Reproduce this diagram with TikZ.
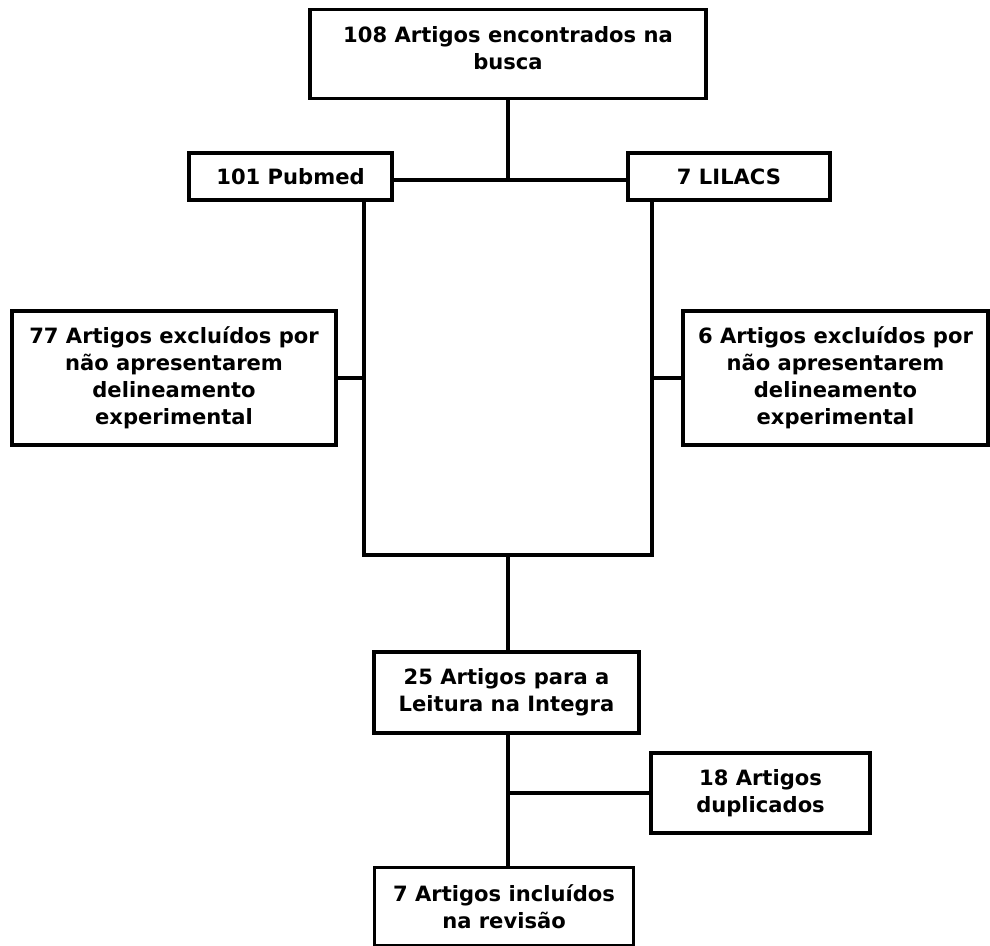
\documentclass[tikz,border=0pt]{standalone}
\usepackage{fontspec}
\setmainfont{DejaVu Sans}
\usetikzlibrary{calc}
\tikzstyle{caixa}=[draw, line width=2pt, align=center, inner sep=0, font=\bfseries\fontsize{12}{15.3}\selectfont]
\tikzstyle{liga}=[line width=2pt]

\begin{document}
\begin{tikzpicture}[x=0.02cm,y=-0.02cm]
\useasboundingbox (0,0) rectangle (990,946);
\node[caixa, minimum width=7.92cm, minimum height=1.78cm] (busca) at (508,54) {108 Artigos encontrados na\\busca\\[-8.5pt]};
\node[caixa, minimum width=4.06cm, minimum height=0.94cm] (pub) at (290.5,176.5) {101 Pubmed};
\node[caixa, minimum width=4.04cm, minimum height=0.94cm] (lil) at (729,176.5) {7 LILACS};
\node[caixa, minimum width=6.48cm, minimum height=2.68cm] (exc1) at (174,378) {77 Artigos excluídos por\\não apresentarem\\delineamento\\experimental};
\node[caixa, minimum width=6.1cm, minimum height=2.68cm] (exc2) at (835.5,378) {6 Artigos excluídos por\\não apresentarem\\delineamento\\experimental};
\node[caixa, minimum width=5.3cm, minimum height=1.62cm] (leit) at (506.5,692.5) {25 Artigos para a\\Leitura na Integra};
\node[caixa, minimum width=4.38cm, minimum height=1.6cm] (dup) at (760.5,793) {18 Artigos\\duplicados};
\node[caixa, minimum width=5.18cm, minimum height=1.56cm] (incl) at (504,906.5) {7 Artigos incluídos\\na revisão};
\coordinate (pl) at (364,555);
\coordinate (ll) at (652,555);
\coordinate (md) at (508,555);
\coordinate (jt) at (508,180);
\draw[liga] (busca.south -| md) -- (jt);
\draw[liga] (pub.east |- jt) -- (lil.west |- jt);
\draw[liga] (pub.south -| pl) -- (pl) -- (ll) -- (lil.south -| ll);
\draw[liga] (exc1.east) -- (exc1.east -| pl);
\draw[liga] (exc2.west) -- (exc2.west -| ll);
\draw[liga] (md) -- (leit.north -| md);
\draw[liga] (leit.south -| md) -- (incl.north -| md);
\draw[liga] (dup.west) -- (dup.west -| md);
\end{tikzpicture}
\end{document}
